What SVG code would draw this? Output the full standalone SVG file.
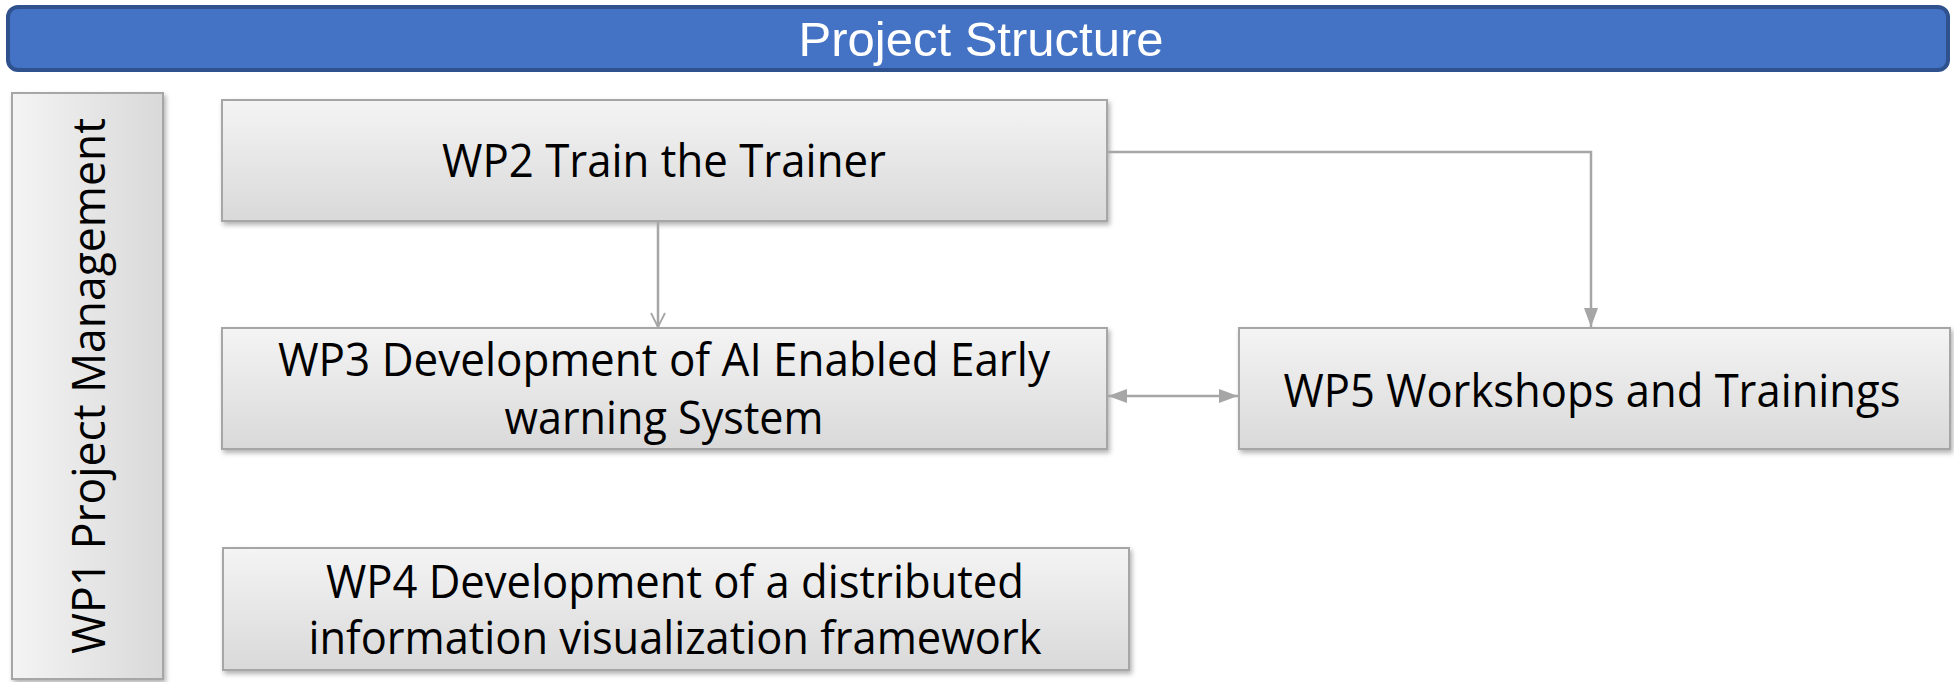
<svg xmlns="http://www.w3.org/2000/svg" width="1954" height="682" viewBox="0 0 1954 682">
<defs>
<linearGradient id="gv" x1="0" y1="0" x2="0" y2="1"><stop offset="0" stop-color="#F4F4F4"/><stop offset="1" stop-color="#D9D9D9"/></linearGradient>
<linearGradient id="gh" x1="0" y1="0" x2="1" y2="0"><stop offset="0" stop-color="#F4F4F4"/><stop offset="1" stop-color="#D9D9D9"/></linearGradient>
<filter id="sh" x="-5%" y="-10%" width="115%" height="130%"><feDropShadow dx="2" dy="3" stdDeviation="2.5" flood-color="#000" flood-opacity="0.3"/></filter>
<marker id="open" markerWidth="18" markerHeight="18" refX="15" refY="9" orient="auto" markerUnits="userSpaceOnUse"><path d="M1,2 L15,9 L1,16" fill="none" stroke="#A6A6A6" stroke-width="1.8"/></marker>
<marker id="fill" markerWidth="20" markerHeight="16" refX="19" refY="8" orient="auto-start-reverse" markerUnits="userSpaceOnUse"><path d="M0,1 L19,8 L0,15 z" fill="#A6A6A6"/></marker>
<style>
.box{stroke:#A6A6A6;stroke-width:2;filter:url(#sh)}
.t{font-family:"Open Sans","Liberation Sans",sans-serif;font-size:45px;fill:#000;text-anchor:middle}
.c{fill:none;stroke:#A6A6A6;stroke-width:2.5}
</style>
</defs>
<g id="title">
<rect x="8" y="7" width="1940" height="63" rx="10" fill="#4472C4" stroke="#2F528F" stroke-width="4"/>
<text x="981" y="56" font-family="'Liberation Sans',Arial,sans-serif" font-size="49" fill="#FFFFFF" text-anchor="middle">Project Structure</text>
</g>
<g id="wp1">
<rect class="box" x="12" y="93" width="151" height="586" fill="url(#gh)"/>
<text class="t" transform="translate(105,386) rotate(-90)" textLength="536" lengthAdjust="spacingAndGlyphs">WP1 Project Management</text>
</g>
<g id="wp2">
<rect class="box" x="222" y="100" width="885" height="121" fill="url(#gv)"/>
<text class="t" x="664" y="177" textLength="444" lengthAdjust="spacingAndGlyphs">WP2 Train the Trainer</text>
</g>
<g id="wp3">
<rect class="box" x="222" y="328" width="885" height="121" fill="url(#gv)"/>
<text class="t" x="664" y="376" textLength="772" lengthAdjust="spacingAndGlyphs">WP3 Development of AI Enabled Early</text>
<text class="t" x="664" y="434" textLength="319" lengthAdjust="spacingAndGlyphs">warning System</text>
</g>
<g id="wp5">
<rect class="box" x="1239" y="328" width="711" height="121" fill="url(#gv)"/>
<text class="t" x="1592" y="407" textLength="617" lengthAdjust="spacingAndGlyphs">WP5 Workshops and Trainings</text>
</g>
<g id="wp4">
<rect class="box" x="223" y="548" width="906" height="122" fill="url(#gv)"/>
<text class="t" x="675" y="598" textLength="698" lengthAdjust="spacingAndGlyphs">WP4 Development of a distributed</text>
<text class="t" x="675" y="654" textLength="733" lengthAdjust="spacingAndGlyphs">information visualization framework</text>
</g>
<g id="connectors">
<path class="c" d="M658,222 L658,327" marker-end="url(#open)"/>
<path class="c" d="M1108,152 L1591,152 L1591,327" marker-end="url(#fill)"/>
<path class="c" d="M1108,396 L1238,396" marker-start="url(#fill)" marker-end="url(#fill)"/>
</g>
</svg>
